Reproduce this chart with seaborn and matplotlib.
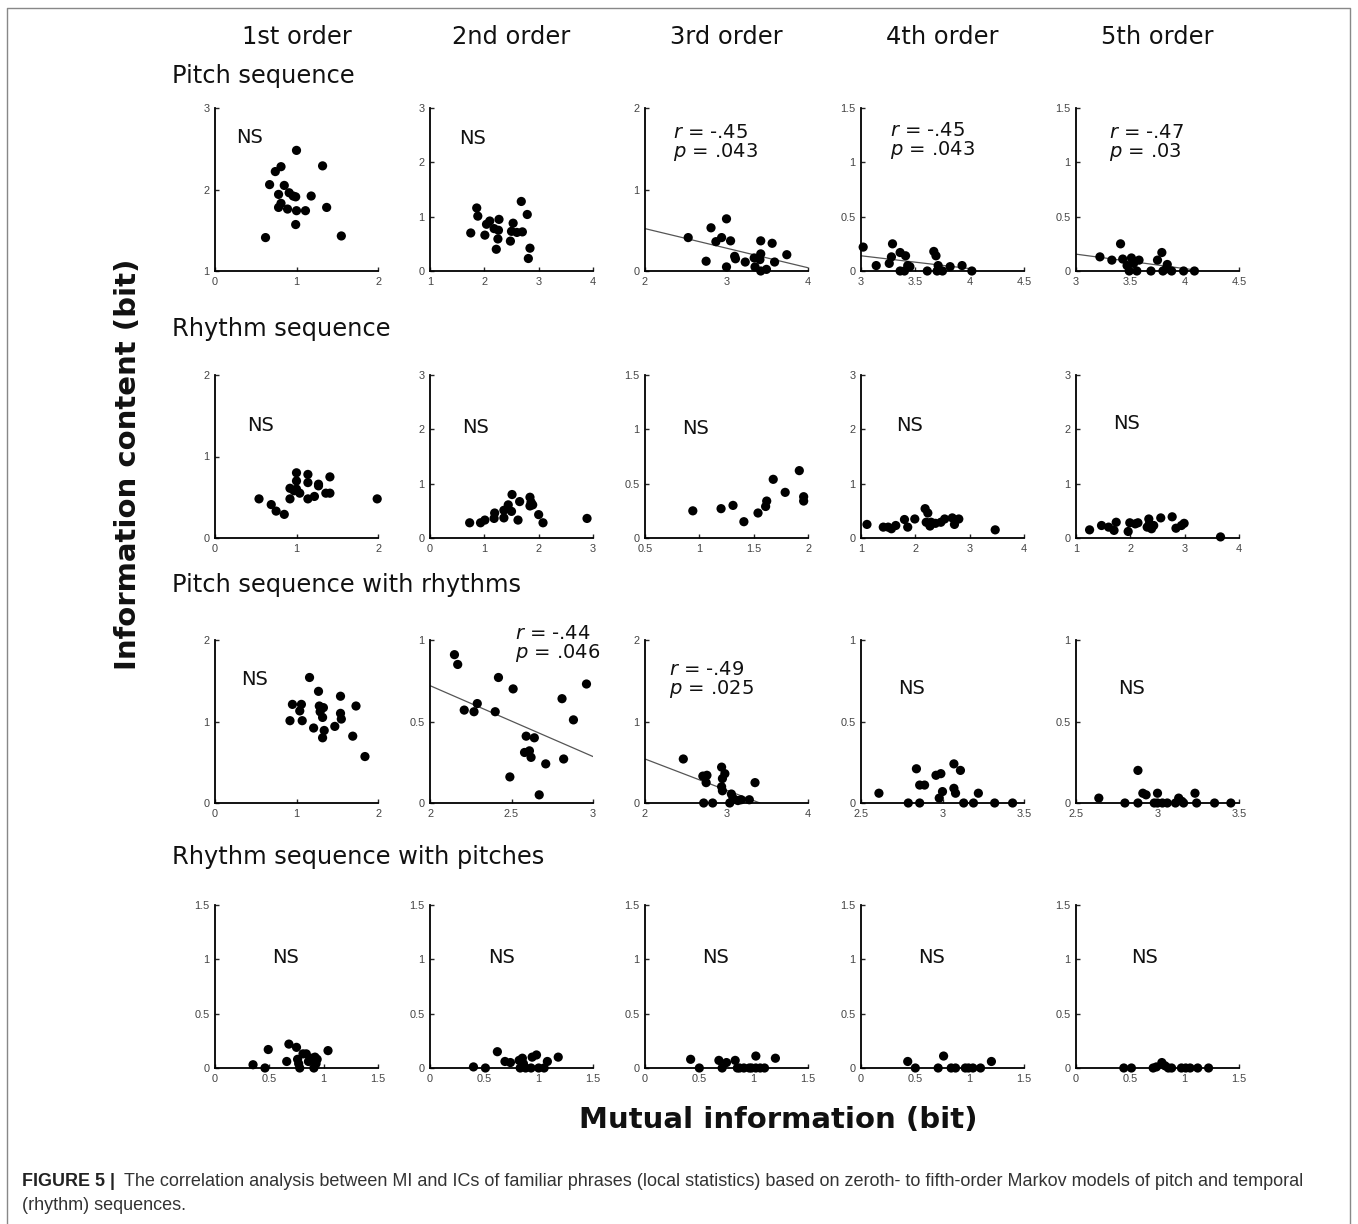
import numpy as np
import pandas as pd
import matplotlib
matplotlib.use('Agg')
import matplotlib.pyplot as plt
import seaborn as sns
from matplotlib.lines import Line2D

sns.set_style('ticks')
plt.rcParams['font.family'] = ['DejaVu Sans']
plt.rcParams['mathtext.fontset'] = 'custom'
plt.rcParams['mathtext.it'] = 'DejaVu Sans:italic'
plt.rcParams['mathtext.rm'] = 'DejaVu Sans'

col_titles = ['1st order', '2nd order', '3rd order', '4th order', '5th order']
row_titles = ['Pitch sequence', 'Rhythm sequence', 'Pitch sequence with rhythms', 'Rhythm sequence with pitches']

# ---- Pitch sequence ----
pitch1_x = [1.0, 1.32, 0.81, 0.74, 0.67, 0.85, 0.78, 0.91, 0.99, 1.18, 0.96, 0.81, 0.78, 0.89, 1.0, 1.11, 1.37, 0.99, 0.62, 1.55]
pitch1_y = [2.48, 2.29, 2.28, 2.22, 2.06, 2.05, 1.94, 1.96, 1.91, 1.92, 1.92, 1.83, 1.78, 1.76, 1.74, 1.74, 1.78, 1.57, 1.41, 1.43]
pitch2_x = [1.86, 1.88, 1.75, 2.01, 2.04, 2.10, 2.27, 2.18, 2.26, 2.25, 2.22, 2.53, 2.50, 2.48, 2.60, 2.70, 2.68, 2.79, 2.84, 2.81]
pitch2_y = [1.16, 1.01, 0.70, 0.66, 0.86, 0.92, 0.95, 0.78, 0.75, 0.59, 0.40, 0.88, 0.73, 0.55, 0.71, 0.72, 1.28, 1.04, 0.42, 0.23]
pitch3_x = [2.53, 2.75, 2.81, 2.87, 2.94, 3.00, 3.05, 3.00, 3.10, 3.11, 3.23, 3.35, 3.34, 3.42, 3.42, 3.41, 3.42, 3.49, 3.56, 3.59, 3.74]
pitch3_y = [0.41, 0.12, 0.53, 0.36, 0.41, 0.64, 0.37, 0.05, 0.18, 0.15, 0.11, 0.05, 0.16, 0.37, 0.21, 0.14, 0.0, 0.02, 0.34, 0.11, 0.20]
pitch4_x = [3.02, 3.14, 3.26, 3.28, 3.29, 3.36, 3.36, 3.41, 3.40, 3.43, 3.45, 3.61, 3.67, 3.69, 3.71, 3.70, 3.75, 3.82, 3.93, 4.02]
pitch4_y = [0.22, 0.05, 0.07, 0.13, 0.25, 0.17, 0.0, 0.14, 0.0, 0.05, 0.04, 0.0, 0.18, 0.14, 0.05, 0.0, 0.0, 0.04, 0.05, 0.0]
pitch5_x = [3.22, 3.33, 3.41, 3.43, 3.47, 3.49, 3.51, 3.53, 3.56, 3.58, 3.69, 3.75, 3.79, 3.80, 3.84, 3.88, 3.99, 4.09, 3.83]
pitch5_y = [0.13, 0.10, 0.25, 0.11, 0.05, 0.0, 0.12, 0.07, 0.0, 0.10, 0.0, 0.10, 0.17, 0.0, 0.06, 0.0, 0.0, 0.0, 0.02]

# ---- Rhythm sequence ----
rhythm1_x = [0.54, 0.69, 0.75, 0.85, 0.92, 0.92, 1.0, 1.0, 1.0, 0.97, 1.04, 1.14, 1.14, 1.14, 1.22, 1.27, 1.27, 1.36, 1.41, 1.41, 1.99]
rhythm1_y = [0.48, 0.41, 0.33, 0.29, 0.61, 0.48, 0.80, 0.70, 0.60, 0.58, 0.55, 0.78, 0.68, 0.48, 0.51, 0.66, 0.64, 0.55, 0.55, 0.75, 0.48]
rhythm2_x = [0.73, 0.93, 1.01, 1.18, 1.19, 1.36, 1.36, 1.44, 1.50, 1.51, 1.62, 1.65, 1.84, 1.84, 1.89, 2.00, 2.08, 2.89, 1.86]
rhythm2_y = [0.28, 0.28, 0.33, 0.36, 0.46, 0.37, 0.51, 0.61, 0.49, 0.80, 0.33, 0.67, 0.75, 0.59, 0.61, 0.43, 0.28, 0.36, 0.66]
rhythm3_x = [0.94, 1.20, 1.31, 1.41, 1.54, 1.61, 1.62, 1.68, 1.79, 1.92, 1.96, 1.96]
rhythm3_y = [0.25, 0.27, 0.30, 0.15, 0.23, 0.29, 0.34, 0.54, 0.42, 0.62, 0.38, 0.34]
rhythm4_x = [1.11, 1.41, 1.50, 1.56, 1.64, 1.80, 1.86, 1.99, 2.18, 2.23, 2.20, 2.29, 2.27, 2.37, 2.54, 2.68, 2.72, 2.80, 3.47, 2.47]
rhythm4_y = [0.25, 0.20, 0.20, 0.17, 0.23, 0.34, 0.20, 0.35, 0.54, 0.46, 0.29, 0.29, 0.22, 0.27, 0.35, 0.37, 0.25, 0.35, 0.15, 0.29]
rhythm5_x = [1.25, 1.47, 1.60, 1.70, 1.74, 1.96, 1.99, 2.09, 2.14, 2.31, 2.34, 2.35, 2.43, 2.39, 2.56, 2.77, 2.84, 2.94, 2.99, 3.66]
rhythm5_y = [0.15, 0.23, 0.20, 0.14, 0.29, 0.12, 0.28, 0.26, 0.28, 0.20, 0.35, 0.26, 0.23, 0.17, 0.37, 0.39, 0.18, 0.23, 0.27, 0.02]

# ---- Pitch sequence with rhythms ----
pwr1_x = [1.16, 1.27, 0.95, 1.06, 1.04, 0.92, 1.07, 1.28, 1.33, 1.29, 1.32, 1.21, 1.34, 1.32, 1.54, 1.54, 1.55, 1.47, 1.73, 1.69, 1.84]
pwr1_y = [1.54, 1.37, 1.21, 1.21, 1.13, 1.01, 1.01, 1.19, 1.17, 1.12, 1.05, 0.92, 0.89, 0.80, 1.31, 1.10, 1.03, 0.94, 1.19, 0.82, 0.57]
pwr2_x = [2.15, 2.17, 2.21, 2.27, 2.29, 2.40, 2.42, 2.51, 2.49, 2.59, 2.58, 2.61, 2.62, 2.64, 2.67, 2.71, 2.81, 2.82, 2.88, 2.96]
pwr2_y = [0.91, 0.85, 0.57, 0.56, 0.61, 0.56, 0.77, 0.70, 0.16, 0.41, 0.31, 0.32, 0.28, 0.40, 0.05, 0.24, 0.64, 0.27, 0.51, 0.73]
pwr3_x = [2.47, 2.71, 2.76, 2.75, 2.72, 2.83, 2.94, 2.95, 2.98, 2.94, 2.95, 3.04, 3.06, 3.08, 3.14, 3.18, 3.28, 3.35]
pwr3_y = [0.54, 0.33, 0.34, 0.25, 0.0, 0.0, 0.44, 0.30, 0.36, 0.20, 0.15, 0.0, 0.11, 0.06, 0.03, 0.04, 0.04, 0.25]
pwr4_x = [2.61, 2.79, 2.84, 2.86, 2.86, 2.89, 2.96, 2.99, 2.98, 3.00, 3.07, 3.07, 3.08, 3.11, 3.13, 3.19, 3.22, 3.32, 3.43]
pwr4_y = [0.06, 0.0, 0.21, 0.0, 0.11, 0.11, 0.17, 0.18, 0.03, 0.07, 0.24, 0.09, 0.06, 0.20, 0.0, 0.0, 0.06, 0.0, 0.0]
pwr5_x = [2.64, 2.80, 2.88, 2.88, 2.91, 2.93, 2.98, 3.00, 3.00, 3.03, 3.06, 3.11, 3.13, 3.15, 3.16, 3.23, 3.24, 3.35, 3.45]
pwr5_y = [0.03, 0.0, 0.0, 0.20, 0.06, 0.05, 0.0, 0.06, 0.0, 0.0, 0.0, 0.0, 0.03, 0.01, 0.0, 0.06, 0.0, 0.0, 0.0]

# ---- Rhythm sequence with pitches ----
rwp1_x = [0.35, 0.46, 0.49, 0.66, 0.68, 0.75, 0.76, 0.78, 0.81, 0.84, 0.86, 0.89, 0.92, 0.91, 0.93, 1.04, 0.77, 0.94]
rwp1_y = [0.03, 0.0, 0.17, 0.06, 0.22, 0.19, 0.08, 0.0, 0.13, 0.13, 0.06, 0.09, 0.10, 0.0, 0.04, 0.16, 0.04, 0.08]
rwp2_x = [0.40, 0.51, 0.62, 0.69, 0.74, 0.82, 0.85, 0.83, 0.88, 0.93, 0.94, 0.98, 1.00, 1.05, 1.08, 1.18, 0.86]
rwp2_y = [0.01, 0.0, 0.15, 0.06, 0.05, 0.07, 0.09, 0.0, 0.0, 0.0, 0.10, 0.12, 0.0, 0.0, 0.06, 0.10, 0.04]
rwp3_x = [0.42, 0.50, 0.68, 0.71, 0.75, 0.83, 0.85, 0.87, 0.96, 1.02, 1.02, 1.06, 1.10, 1.20, 0.91, 0.98]
rwp3_y = [0.08, 0.0, 0.07, 0.0, 0.05, 0.07, 0.0, 0.0, 0.0, 0.11, 0.0, 0.0, 0.0, 0.09, 0.0, 0.0]
rwp4_x = [0.43, 0.50, 0.71, 0.76, 0.83, 0.87, 0.96, 0.99, 1.03, 1.10, 1.20]
rwp4_y = [0.06, 0.0, 0.0, 0.11, 0.0, 0.0, 0.0, 0.0, 0.0, 0.0, 0.06]
rwp5_x = [0.44, 0.51, 0.71, 0.74, 0.79, 0.85, 0.88, 0.97, 1.01, 1.05, 1.12, 1.22, 0.82]
rwp5_y = [0.0, 0.0, 0.0, 0.01, 0.05, 0.0, 0.0, 0.0, 0.0, 0.0, 0.0, 0.0, 0.02]

# axis ticks per panel (limits = first / last tick)
pitch_xticks = [[0, 1, 2], [1, 2, 3, 4], [2, 3, 4], [3, 3.5, 4, 4.5], [3, 3.5, 4, 4.5]]
pitch_yticks = [[1, 2, 3], [0, 1, 2, 3], [0, 1, 2], [0, 0.5, 1, 1.5], [0, 0.5, 1, 1.5]]
rhythm_xticks = [[0, 1, 2], [0, 1, 2, 3], [0.5, 1, 1.5, 2], [1, 2, 3, 4], [1, 2, 3, 4]]
rhythm_yticks = [[0, 1, 2], [0, 1, 2, 3], [0, 0.5, 1, 1.5], [0, 1, 2, 3], [0, 1, 2, 3]]
pwr_xticks = [[0, 1, 2], [2, 2.5, 3], [2, 3, 4], [2.5, 3, 3.5], [2.5, 3, 3.5]]
pwr_yticks = [[0, 1, 2], [0, 0.5, 1], [0, 1, 2], [0, 0.5, 1], [0, 0.5, 1]]
rwp_xticks = [[0, 0.5, 1, 1.5]] * 5
rwp_yticks = [[0, 0.5, 1, 1.5]] * 5

# statistics text and regression lines
pitch_stats = ['NS', 'NS', ('-.45', '.043'), ('-.45', '.043'), ('-.47', '.03')]
rhythm_stats = ['NS'] * 5
pwr_stats = ['NS', ('-.44', '.046'), ('-.49', '.025'), 'NS', 'NS']
rwp_stats = ['NS'] * 5

pitch_fits = [None, None, ([2, 4], [0.52, 0.04]), ([3, 4.02], [0.14, 0.02]), ([3, 4.09], [0.155, 0.01])]
rhythm_fits = [None] * 5
pwr_fits = [None, ([2, 3], [0.72, 0.285]), ([2, 3.41], [0.54, 0.0]), None, None]
rwp_fits = [None] * 5

# text positions (axes fraction)
pitch_pos = [(0.21, 0.82), (0.26, 0.81), (0.17, 0.85), (0.18, 0.86), (0.20, 0.85)]
rhythm_pos = [(0.28, 0.69), (0.28, 0.675), (0.31, 0.67), (0.30, 0.69), (0.31, 0.70)]
pwr_pos = [(0.245, 0.76), (0.52, 1.04), (0.15, 0.82), (0.31, 0.70), (0.34, 0.70)]
rwp_pos = [(0.435, 0.675), (0.44, 0.675), (0.435, 0.675), (0.435, 0.675), (0.42, 0.675)]

rows = [
    ([pitch1_x, pitch2_x, pitch3_x, pitch4_x, pitch5_x], [pitch1_y, pitch2_y, pitch3_y, pitch4_y, pitch5_y],
     pitch_xticks, pitch_yticks, pitch_stats, pitch_fits, pitch_pos),
    ([rhythm1_x, rhythm2_x, rhythm3_x, rhythm4_x, rhythm5_x], [rhythm1_y, rhythm2_y, rhythm3_y, rhythm4_y, rhythm5_y],
     rhythm_xticks, rhythm_yticks, rhythm_stats, rhythm_fits, rhythm_pos),
    ([pwr1_x, pwr2_x, pwr3_x, pwr4_x, pwr5_x], [pwr1_y, pwr2_y, pwr3_y, pwr4_y, pwr5_y],
     pwr_xticks, pwr_yticks, pwr_stats, pwr_fits, pwr_pos),
    ([rwp1_x, rwp2_x, rwp3_x, rwp4_x, rwp5_x], [rwp1_y, rwp2_y, rwp3_y, rwp4_y, rwp5_y],
     rwp_xticks, rwp_yticks, rwp_stats, rwp_fits, rwp_pos),
]

W, H = 1358, 1224
fig = plt.figure(figsize=(W / 100, H / 100), dpi=100)

col_left = [215, 430, 645, 861, 1076]
row_top = [108, 375, 640, 905]
pw, ph = 163, 163
title_y = [76, 329, 585, 857]


def fmt(v):
    return ('%g' % v)


for ri, (xs, ys, xt, yt, stats, fits, pos) in enumerate(rows):
    for ci in range(5):
        ax = fig.add_axes([col_left[ci] / W, 1 - (row_top[ri] + ph) / H, pw / W, ph / H])
        df = pd.DataFrame({'mi': xs[ci], 'ic': ys[ci]})
        sns.scatterplot(data=df, x='mi', y='ic', ax=ax, color='black', s=44,
                        edgecolor='none', linewidth=0, clip_on=False, zorder=3)
        if fits[ci] is not None:
            fx, fy = fits[ci]
            ax.plot(fx, fy, color='#555555', lw=0.9, zorder=2)
        ax.set_xlim(xt[ci][0], xt[ci][-1])
        ax.set_ylim(yt[ci][0], yt[ci][-1])
        ax.set_xticks(xt[ci])
        ax.set_yticks(yt[ci])
        ax.set_xticklabels([fmt(v) for v in xt[ci]])
        ax.set_yticklabels([fmt(v) for v in yt[ci]])
        ax.set_xlabel('')
        ax.set_ylabel('')
        for s in ['top', 'right']:
            ax.spines[s].set_visible(False)
        for s in ['left', 'bottom']:
            ax.spines[s].set_linewidth(1.3)
            ax.spines[s].set_color('black')
        ax.tick_params(direction='in', length=3, width=1, labelsize=7.9,
                       labelcolor='#444444')
        ax.tick_params(axis='x', pad=4.5)
        ax.tick_params(axis='y', pad=4)
        for lab in ax.get_xticklabels() + ax.get_yticklabels():
            lab.set_family(['Liberation Sans', 'DejaVu Sans'])
        st = stats[ci]
        px, py = pos[ci]
        if st == 'NS':
            ax.text(px, py, 'NS', transform=ax.transAxes, ha='center', va='center',
                    fontsize=14, color='#111111')
        else:
            ax.text(px, py, '$r$ = ' + st[0], transform=ax.transAxes, ha='left', va='center',
                    fontsize=14, color='#111111')
            ax.text(px, py - 0.12, '$p$ = ' + st[1], transform=ax.transAxes, ha='left', va='center',
                    fontsize=14, color='#111111')
    fig.text(172 / W, 1 - title_y[ri] / H, row_titles[ri], ha='left', va='center',
             fontsize=17.4, color='#111111')

for ci, t in enumerate(col_titles):
    fig.text((col_left[ci] + pw / 2) / W, 1 - 37 / H, t, ha='center', va='center',
             fontsize=17.4, color='#111111')

fig.text(128 / W, 1 - 464 / H, 'Information content (bit)', rotation=90, ha='center', va='center',
         fontsize=21, fontweight='bold', color='#111111')
fig.text(778 / W, 1 - 1120 / H, 'Mutual information (bit)', ha='center', va='center',
         fontsize=21, fontweight='bold', color='#111111')

# caption
cap_family = ['Liberation Sans', 'DejaVu Sans']
fig.text(22 / W, 1 - 1182 / H, 'FIGURE 5 |', ha='left', va='center', fontsize=12.9,
         fontweight='bold', family=cap_family, color='#222222')
fig.text(124 / W, 1 - 1182 / H,
         'The correlation analysis between MI and ICs of familiar phrases (local statistics) based on zeroth- to fifth-order Markov models of pitch and temporal',
         ha='left', va='center', fontsize=12.95, family=cap_family, color='#333333')
fig.text(22 / W, 1 - 1206 / H, '(rhythm) sequences.', ha='left', va='center', fontsize=12.95,
         family=cap_family, color='#333333')

# frame
fx0, fx1, fy0 = 7 / W, 1350 / W, 1 - 8 / H
fig.add_artist(Line2D([fx0, fx0, fx1, fx1], [-0.01, fy0, fy0, -0.01], color='#888888', lw=1.0))

fig.savefig('out.png', dpi=100)
